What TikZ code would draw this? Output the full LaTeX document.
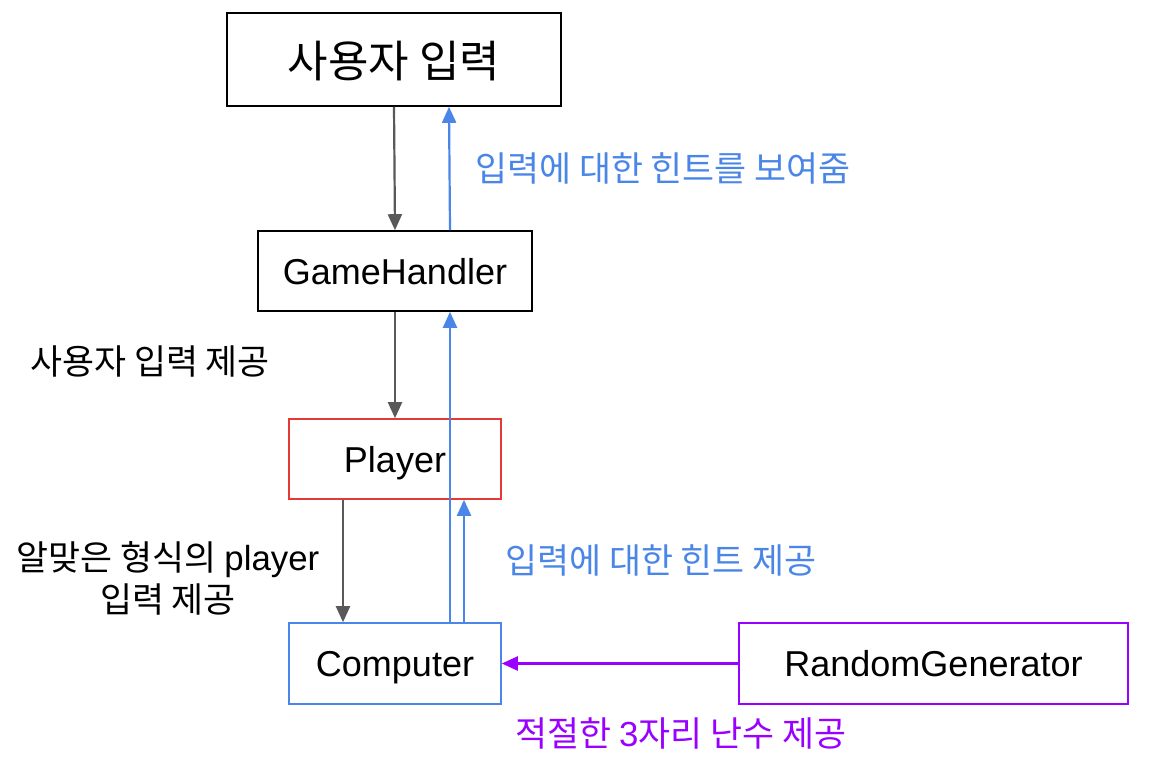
\documentclass[tikz,border=0pt]{standalone}
\usepackage{fontspec}
\setmainfont{Liberation Sans}
\newfontfamily\kr{Noto Sans CJK KR}
\usetikzlibrary{arrows.meta}
\definecolor{cgray}{HTML}{595959}
\definecolor{cblue}{HTML}{4A86E8}
\definecolor{cred}{HTML}{E53935}
\definecolor{cpurple}{HTML}{9900FF}
\tikzset{
  box/.style={draw, line width=1.6pt, rectangle, inner sep=0pt, text depth=0pt, font=\fontsize{36}{40}\selectfont},
  tip/.style={-{Triangle[width=14pt,length=16pt]}},
  garrow/.style={draw=cgray, line width=2.2pt, tip, fill=cgray},
  barrow/.style={draw=cblue, line width=2.2pt, tip, fill=cblue},
  parrow/.style={draw=cpurple, line width=2.2pt, tip, fill=cpurple},
  lbl/.style={inner sep=0pt, anchor=west, font=\kr\fontsize{34.8}{42}\selectfont},
}
\begin{document}
\begin{tikzpicture}[x=1pt,y=-1pt]
\useasboundingbox[fill=white] (0,0) rectangle (1150,782);
\node[box, minimum width=334pt, minimum height=93pt, font=\kr\fontsize{44}{48}\selectfont] (inp) at (394,59.5) {사용자 입력};
\node[box, minimum width=274pt, minimum height=80pt] (gh) at (395,271) {GameHandler};
\node[box, draw=cred, minimum width=212pt, minimum height=80pt] (pl) at (395,459) {Player};
\node[box, draw=cblue, minimum width=212pt, minimum height=81pt] (co) at (395,663.5) {Computer};
\node[box, draw=cpurple, minimum width=389pt, minimum height=81pt] (rg) at (933.5,663.5) {RandomGenerator};

\draw[garrow] (inp.south) -- (gh.north);
\draw[barrow] ([xshift=55pt]gh.north) -- ([xshift=55pt]inp.south);
\draw[garrow] (gh.south) -- (pl.north);
\draw[barrow] ([xshift=55pt]co.north) -- ([xshift=55pt]gh.south);
\draw[garrow] ([xshift=-52pt]pl.south) -- ([xshift=-52pt]co.north);
\draw[barrow] ([xshift=69pt]co.north) -- ([xshift=69pt]pl.south);
\draw[parrow] (rg.west) -- (co.east);

\node[lbl, text=cblue] (l1) at (475,168) {입력에 대한 힌트를 보여줌};
\node[lbl] (l2) at (30,361) {사용자 입력 제공};
\node[lbl, anchor=center, align=center] (l3) at (168,578) {알맞은 형식의 {\fontspec{Liberation Sans}player}\\입력 제공};
\node[lbl, text=cblue] (l4) at (505,560) {입력에 대한 힌트 제공};
\node[lbl, text=cpurple] (l5) at (515,733) {적절한 {\fontspec{Liberation Sans}3}자리 난수 제공};
\end{tikzpicture}
\end{document}
